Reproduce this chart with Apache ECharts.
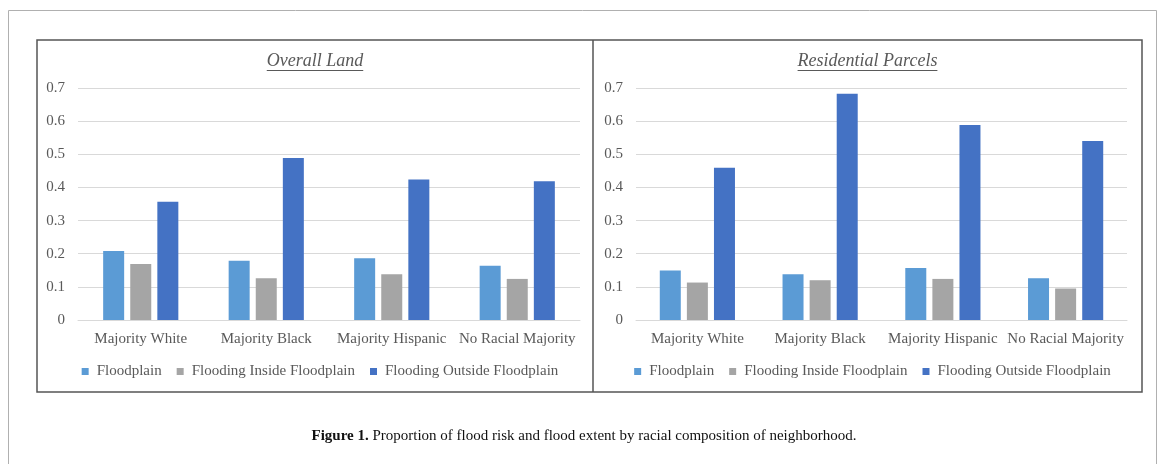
<!DOCTYPE html>
<html><head><meta charset="utf-8">
<script src="https://cdn.jsdelivr.net/npm/echarts@6/dist/echarts.min.js"></script>
<style>html,body{margin:0;padding:0;background:#fff}#c{width:1168px;height:464px}</style>
</head><body><div id="c"></div>
<script>
const categories = ['Majority White', 'Majority Black', 'Majority Hispanic', 'No Racial Majority'];
const seriesNames = ['Floodplain', 'Flooding Inside Floodplain', 'Flooding Outside Floodplain'];
const panelTitles = ['Overall Land', 'Residential Parcels'];
const overallFloodplain = [0.208, 0.179, 0.186, 0.164];
const overallInside = [0.169, 0.126, 0.138, 0.124];
const overallOutside = [0.357, 0.489, 0.424, 0.419];
const resFloodplain = [0.149, 0.138, 0.157, 0.126];
const resInside = [0.113, 0.120, 0.124, 0.095];
const resOutside = [0.459, 0.683, 0.588, 0.540];
const yMin = 0, yMax = 0.7, yStep = 0.1;
const captionBold = 'Figure 1.';
const captionText = 'Proportion of flood risk and flood extent by racial composition of neighborhood.';

const colors = ['#5B9BD5', '#A5A5A5', '#4472C4'];
const FONT = '"Liberation Serif", "Times New Roman", serif';
const textColor = '#595959';

const cv = document.createElement('canvas').getContext('2d');
function tw(t, f) { cv.font = f; return cv.measureText(t).width; }

const panels = [
  { x0: 37, x1: 593, gridLeft: 78, gridRight: 580 },
  { x0: 593, x1: 1142, gridLeft: 636, gridRight: 1127 }
];
const titleFont = 'italic 18px ' + FONT;
const legFontSize = 15;
const legItemW = 7, legGap = 15, legTextPad = 3;
function legendWidth() {
  let w = 0;
  seriesNames.forEach((n, i) => {
    w += legItemW + 5 + legTextPad + tw(n, legFontSize + 'px ' + FONT);
    if (i) w += legGap;
  });
  return w;
}
const lw = legendWidth();

const data = [[overallFloodplain, overallInside, overallOutside], [resFloodplain, resInside, resOutside]];

const grid = [], xAxis = [], yAxis = [], series = [], legend = [], graphic = [];
panels.forEach((p, pi) => {
  grid.push({ left: p.gridLeft, width: p.gridRight - p.gridLeft, top: 88, height: 232, containLabel: false });
  xAxis.push({
    type: 'category', gridIndex: pi, data: categories,
    axisTick: { show: false },
    axisLine: { lineStyle: { color: '#D9D9D9', width: 1 } },
    axisLabel: { color: textColor, fontFamily: FONT, fontSize: 15, margin: 12, interval: 0 }
  });
  yAxis.push({
    type: 'value', gridIndex: pi, min: yMin, max: yMax, interval: yStep,
    axisLine: { show: false }, axisTick: { show: false },
    splitLine: { lineStyle: { color: '#D9D9D9', width: 1 } },
    axisLabel: { color: textColor, fontFamily: FONT, fontSize: 15, margin: 13,
      formatter: v => (Math.round(v * 10) / 10).toString() }
  });
  seriesNames.forEach((n, si) => {
    series.push({
      type: 'bar', name: n, xAxisIndex: pi, yAxisIndex: pi,
      data: data[pi][si], barWidth: 21, barGap: '29%',
      itemStyle: { color: colors[si] }, emphasis: { disabled: true }
    });
  });
  const cx = (p.x0 + p.x1) / 2;
  legend.push({
    data: seriesNames, left: cx - lw / 2, top: 359,
    icon: 'rect', itemWidth: legItemW, itemHeight: legItemW, itemGap: legGap,
    textStyle: { color: textColor, fontFamily: FONT, fontSize: legFontSize, padding: [0, 0, 0, legTextPad] },
    selectedMode: false
  });
  const tW = tw(panelTitles[pi], titleFont);
  graphic.push({
    type: 'text', x: cx, y: 61,
    style: { text: panelTitles[pi], font: titleFont, fill: textColor, align: 'center', verticalAlign: 'middle' }
  });
  graphic.push({
    type: 'line', shape: { x1: cx - tW / 2, y1: 70.5, x2: cx + tW / 2, y2: 70.5 },
    style: { stroke: textColor, lineWidth: 1 }
  });
});
// frames
graphic.push({ type: 'rect', shape: { x: 8.5, y: 10.5, width: 1148, height: 470 }, style: { fill: 'none', stroke: '#B0B0B0', lineWidth: 1 }, z: -1 });
graphic.push({ type: 'rect', shape: { x: 37, y: 40, width: 1105, height: 352 }, style: { fill: 'none', stroke: '#555', lineWidth: 1.5 } });
graphic.push({ type: 'line', shape: { x1: 593, y1: 40, x2: 593, y2: 392 }, style: { stroke: '#555', lineWidth: 1.5 } });

const chart = echarts.init(document.getElementById('c'), null, { renderer: 'canvas' });
chart.setOption({
  animation: false,
  backgroundColor: '#fff',
  title: {
    text: '{b|' + captionBold + '} ' + captionText,
    left: 'center', top: 424,
    textStyle: { fontFamily: FONT, fontSize: 15, fontWeight: 'normal', color: '#111',
      rich: { b: { fontFamily: FONT, fontSize: 15, fontWeight: 'bold', color: '#111' } } }
  },
  grid, xAxis, yAxis, series, legend, graphic
});
</script>
</body></html>
